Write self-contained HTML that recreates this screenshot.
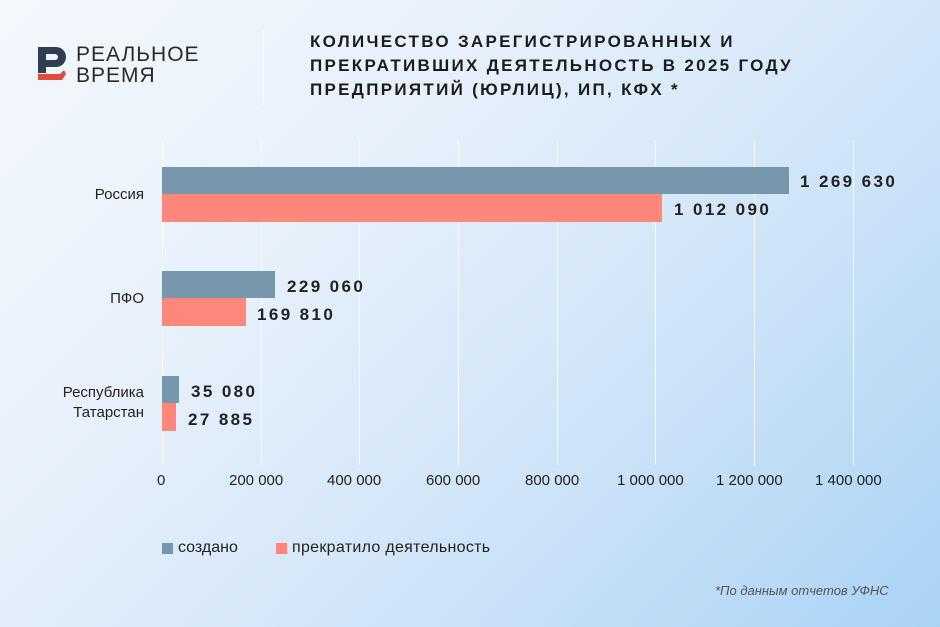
<!DOCTYPE html>
<html><head><meta charset="utf-8"><style>
body{margin:0;width:940px;height:627px;overflow:hidden;font-family:"Liberation Sans",sans-serif;}
.bg{position:absolute;left:0;top:0;width:940px;height:627px;background:linear-gradient(135deg,#f4f8fd 0%,#e6f0fb 35%,#cfe4f8 65%,#a9d3f5 100%);}
.t{position:absolute;white-space:nowrap;}
.g{position:absolute;top:140px;width:1px;height:325px;background:rgba(255,255,255,0.8);}
.b{position:absolute;left:162px;}
.bl{background:#7797ad;}
.rd{background:#fd877a;}
.v{font-weight:bold;font-size:17px;color:#222;letter-spacing:2.4px;}
.ax{font-size:15px;color:#222;top:472px;}
.cat{font-size:15px;color:#222;text-align:right;}
</style></head><body>
<div class="bg"></div>
<svg style="position:absolute;left:38px;top:47px" width="32" height="36" viewBox="0 0 32 36">
<path d="M0 0H18A10 10 0 0 1 18 20H8V26H0Z M8 7V13H17A3 3 0 0 0 17 7Z" fill="#2e3f52" fill-rule="evenodd"/>
<path d="M0 27H22L26 23L28 27L24 33H0Z" fill="#e04a3f"/>
</svg>
<div class="t" style="left:76px;top:44px;font-size:21px;line-height:21px;color:#2a2a2a;letter-spacing:1px">РЕАЛЬНОЕ<br>ВРЕМЯ</div>
<div style="position:absolute;left:263px;top:30px;width:1px;height:75px;background:rgba(255,255,255,0.9)"></div>
<div class="t" style="left:310px;top:30px;font-size:17px;line-height:24px;font-weight:bold;color:#1c1c1c;letter-spacing:2.3px">КОЛИЧЕСТВО ЗАРЕГИСТРИРОВАННЫХ И<br>ПРЕКРАТИВШИХ ДЕЯТЕЛЬНОСТЬ В 2025 ГОДУ<br>ПРЕДПРИЯТИЙ (ЮРЛИЦ), ИП, КФХ *</div>
<div class="g" style="left:162px"></div><div class="g" style="left:261px"></div><div class="g" style="left:359px"></div><div class="g" style="left:458px"></div><div class="g" style="left:557px"></div><div class="g" style="left:655px"></div><div class="g" style="left:754px"></div><div class="g" style="left:853px"></div>
<div class="b bl" style="top:167px;width:627px;height:27px"></div>
<div class="b rd" style="top:194px;width:500px;height:28px"></div>
<div class="b bl" style="top:271px;width:113px;height:27px"></div>
<div class="b rd" style="top:298px;width:84px;height:28px"></div>
<div class="b bl" style="top:376px;width:17px;height:27px"></div>
<div class="b rd" style="top:403px;width:14px;height:28px"></div>
<div class="t v" style="left:800px;top:172px">1 269 630</div>
<div class="t v" style="left:674px;top:200px">1 012 090</div>
<div class="t v" style="left:287px;top:277px">229 060</div>
<div class="t v" style="left:257px;top:305px">169 810</div>
<div class="t v" style="left:191px;top:382px">35 080</div>
<div class="t v" style="left:188px;top:410px">27 885</div>
<div class="t cat" style="right:796px;top:186px">Россия</div>
<div class="t cat" style="right:796px;top:290px">ПФО</div>
<div class="t cat" style="right:796px;top:383px;line-height:20px">Республика<br>Татарстан</div>
<div class="t ax" style="left:157px">0</div>
<div class="t ax" style="left:229px">200 000</div>
<div class="t ax" style="left:327px">400 000</div>
<div class="t ax" style="left:426px">600 000</div>
<div class="t ax" style="left:525px">800 000</div>
<div class="t ax" style="left:617px">1 000 000</div>
<div class="t ax" style="left:716px">1 200 000</div>
<div class="t ax" style="left:815px">1 400 000</div>
<div style="position:absolute;left:162px;top:543px;width:11px;height:11px;background:#7797ad"></div>
<div class="t" style="left:178px;top:539px;font-size:16px;color:#222">создано</div>
<div style="position:absolute;left:276px;top:543px;width:11px;height:11px;background:#fd877a"></div>
<div class="t" style="left:292px;top:539px;font-size:16px;color:#222;letter-spacing:0.3px">прекратило деятельность</div>
<div class="t" style="left:715px;top:583px;font-size:13px;font-style:italic;color:#555">*По данным отчетов УФНС</div>
</body></html>
